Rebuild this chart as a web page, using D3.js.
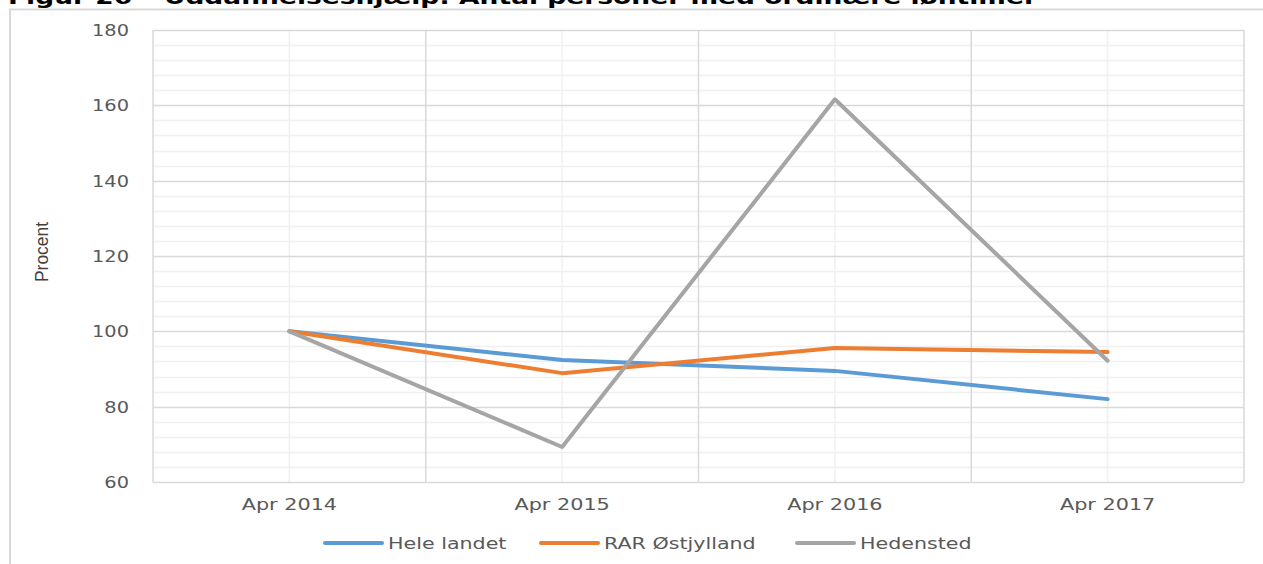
<!DOCTYPE html>
<html>
<head>
<meta charset="utf-8">
<script src="https://cdn.jsdelivr.net/npm/d3@7"></script>
<style>
  body { margin: 0; background: #fff; }
  svg { display: block; }
</style>
</head>
<body>
<div id="chart"></div>
<script>
// data
var categories = ["Apr 2014", "Apr 2015", "Apr 2016", "Apr 2017"];
var heleLandet = [100, 92.4, 89.5, 82.0];
var rarOstjylland = [100, 88.9, 95.6, 94.5];
var hedensted = [100, 69.3, 161.6, 92.2];
var seriesNames = ["Hele landet", "RAR Østjylland", "Hedensted"];
var yTicks = [60, 80, 100, 120, 140, 160, 180];
var titleText = "Figur 26 – Uddannelseshjælp: Antal personer med ordinære løntimer";

var W = 1263, H = 564;
var colors = ["#5b9bd5", "#ed7d31", "#a5a5a5"];
var series = [heleLandet, rarOstjylland, hedensted];

var svg = d3.select("#chart").append("svg").attr("width", W).attr("height", H);

// stretch text horizontally like the (wide) source picture
function stretch(sel, f) {
    sel.each(function() {
        var len = this.getComputedTextLength();
        d3.select(this).attr("textLength", len * f).attr("lengthAdjust", "spacingAndGlyphs");
    });
}

// title, cut off at the top edge
svg.append("text")
    .attr("x", 8).attr("y", 4)
    .attr("font-family", "DejaVu Sans").attr("font-weight", "bold")
    .attr("font-size", 19).attr("fill", "#000")
    .text(titleText)
    .attr("textLength", 1029).attr("lengthAdjust", "spacingAndGlyphs");

// chart frame
svg.append("path")
    .attr("d", "M10,564 V9.5 H1263")
    .attr("fill", "none").attr("stroke", "#d9d9d9").attr("stroke-width", 2);

var plotLeft = 153, plotRight = 1244, plotTop = 30, plotBottom = 482;

var x = d3.scaleBand().domain(categories).range([plotLeft, plotRight]).padding(0);
var y = d3.scaleLinear().domain([60, 180]).range([plotBottom, plotTop]);

var grid = svg.append("g");

// minor horizontal gridlines
grid.selectAll(".hmin").data(d3.range(60, 181, 4).filter(function(v){ return v % 20 != 0; }))
    .enter().append("line")
    .attr("x1", plotLeft).attr("x2", plotRight)
    .attr("y1", function(d){ return Math.round(y(d)) + 0.5; })
    .attr("y2", function(d){ return Math.round(y(d)) + 0.5; })
    .attr("stroke", "#f0f0f0").attr("stroke-width", 1.5);

// minor vertical gridlines at category centres
grid.selectAll(".vmin").data(categories).enter().append("line")
    .attr("x1", function(d){ return x(d) + x.bandwidth() / 2; })
    .attr("x2", function(d){ return x(d) + x.bandwidth() / 2; })
    .attr("y1", plotTop).attr("y2", plotBottom)
    .attr("stroke", "#f0f0f0").attr("stroke-width", 1.5);

// major horizontal gridlines
grid.selectAll(".hmaj").data(yTicks).enter().append("line")
    .attr("x1", plotLeft).attr("x2", plotRight)
    .attr("y1", function(d){ return Math.round(y(d)) + 0.5; })
    .attr("y2", function(d){ return Math.round(y(d)) + 0.5; })
    .attr("stroke", "#d9d9d9").attr("stroke-width", 1.5);

// major vertical gridlines at category boundaries
grid.selectAll(".vmaj").data(categories.slice(1).concat(["end"])).enter().append("line")
    .attr("x1", function(d){ return d == "end" ? plotRight : x(d); })
    .attr("x2", function(d){ return d == "end" ? plotRight : x(d); })
    .attr("y1", plotTop).attr("y2", plotBottom)
    .attr("stroke", "#d9d9d9").attr("stroke-width", 1.5);
grid.append("line").attr("x1", plotLeft).attr("x2", plotLeft).attr("y1", plotTop).attr("y2", plotBottom)
    .attr("stroke", "#d9d9d9").attr("stroke-width", 1.5);

// y axis labels
var yAxis = svg.append("g")
    .attr("transform", "translate(" + (plotLeft - 24) + ",0)")
    .call(d3.axisLeft(y).tickValues(yTicks).tickSize(0).tickPadding(0));
yAxis.select(".domain").remove();
yAxis.selectAll("text")
    .attr("font-family", "DejaVu Sans").attr("font-size", 15.5)
    .attr("fill", "#595959").attr("dy", "0.36em")
    .call(stretch, 1.25);

// x axis labels
var xAxis = svg.append("g")
    .attr("transform", "translate(0," + plotBottom + ")")
    .call(d3.axisBottom(x).tickSize(0).tickPadding(17));
xAxis.select(".domain").remove();
xAxis.selectAll("text")
    .attr("font-family", "DejaVu Sans").attr("font-size", 15.5)
    .attr("fill", "#595959")
    .call(stretch, 1.34);

// y axis title
svg.append("text")
    .attr("transform", "translate(48,252) rotate(-90)")
    .attr("text-anchor", "middle")
    .attr("font-family", "Liberation Sans").attr("font-size", 19)
    .attr("fill", "#404040")
    .text("Procent")
    .attr("textLength", 60).attr("lengthAdjust", "spacingAndGlyphs");

// lines
var line = d3.line()
    .x(function(d, i){ return x(categories[i]) + x.bandwidth() / 2; })
    .y(function(d){ return y(d); });

svg.selectAll(".series").data(series).enter().append("path")
    .attr("d", line)
    .attr("fill", "none")
    .attr("stroke", function(d, i){ return colors[i]; })
    .attr("stroke-width", 4)
    .attr("stroke-linejoin", "round")
    .attr("stroke-linecap", "round");

// legend
var legendX = [325, 541, 797];
var legend = svg.selectAll(".legend").data(seriesNames).enter().append("g")
    .attr("transform", function(d, i){ return "translate(" + legendX[i] + ",543)"; });
legend.append("line")
    .attr("x1", 0).attr("x2", 57).attr("y1", 0).attr("y2", 0)
    .attr("stroke", function(d, i){ return colors[i]; })
    .attr("stroke-width", 4).attr("stroke-linecap", "round");
legend.append("text")
    .attr("x", 63).attr("y", 0).attr("dy", "0.36em")
    .attr("font-family", "DejaVu Sans").attr("font-size", 15.5)
    .attr("fill", "#595959")
    .text(function(d){ return d; })
    .call(stretch, 1.33);
</script>
</body>
</html>
